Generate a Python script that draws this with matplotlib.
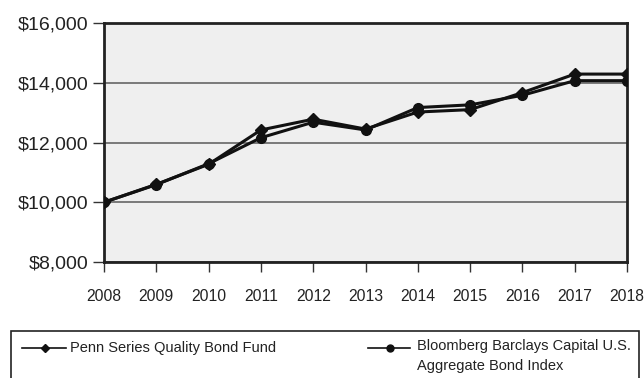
import numpy as np
import matplotlib.pyplot as plt
from matplotlib.lines import Line2D
from matplotlib.patches import Rectangle
from matplotlib.ticker import FuncFormatter

plt.rcParams['font.family'] = ['Liberation Sans', 'DejaVu Sans']

years = [2008, 2009, 2010, 2011, 2012, 2013, 2014, 2015, 2016, 2017, 2018]
# growth of a $10,000 investment
fund = [10000, 10600, 11270, 12420, 12780, 12450, 13020, 13100, 13670, 14290, 14290]
index = [10000, 10590, 11290, 12160, 12680, 12420, 13170, 13260, 13580, 14070, 14070]
fund_label = "Penn Series Quality Bond Fund"
index_label = "Bloomberg Barclays Capital U.S.\nAggregate Bond Index"

fig = plt.figure(figsize=(6.44, 3.78), dpi=100)
ax = fig.add_axes([104 / 644, 1 - 262 / 378, (627 - 104) / 644, (262 - 23) / 378])
ax.set_facecolor('#efefef')

ax.plot(years, index, color='#111111', lw=2.2, marker='o', ms=7, zorder=3)
ax.plot(years, fund, color='#111111', lw=2.2, marker='D', ms=6.5, zorder=4)

ax.set_xlim(2008, 2018)
ax.set_ylim(8000, 16000)
ax.set_xticks(years)
ax.set_yticks([8000, 10000, 12000, 14000, 16000])
ax.yaxis.set_major_formatter(FuncFormatter(lambda v, p: '${:,.0f}'.format(v)))
ax.grid(axis='y', color='#666666', lw=1.2)
ax.set_axisbelow(True)
for s in ax.spines.values():
    s.set_linewidth(2)
    s.set_color('#222222')
ax.tick_params(axis='x', length=7.5, width=1, color='#333333', pad=12, labelsize=11.3)
ax.tick_params(axis='y', length=8, width=1, color='#333333', pad=3, labelsize=14)
for lab in ax.get_xticklabels() + ax.get_yticklabels():
    lab.set_color('#222222')

# legend box along the bottom
fig.add_artist(Rectangle((11 / 644, -0.05), (639 - 11) / 644, 1.05 - 331 / 378,
                         transform=fig.transFigure, fill=False, ec='#222222', lw=1.2))
y1 = 1 - 348 / 378
fig.add_artist(Line2D([22 / 644, 66 / 644], [y1, y1], color='#111111', lw=1.2))
fig.add_artist(Line2D([45 / 644], [y1], color='#111111', marker='D', ms=4.5))
fig.text(70 / 644, y1, fund_label, fontsize=10.5, va='center', color='#222222')
fig.add_artist(Line2D([368 / 644, 410 / 644], [y1, y1], color='#111111', lw=1.2))
fig.add_artist(Line2D([390 / 644], [y1], color='#111111', marker='o', ms=5))
fig.text(417 / 644, y1 + 0.025, index_label, fontsize=10.5, va='top', color='#222222',
         linespacing=1.6)

fig.savefig('out.png', dpi=100)
